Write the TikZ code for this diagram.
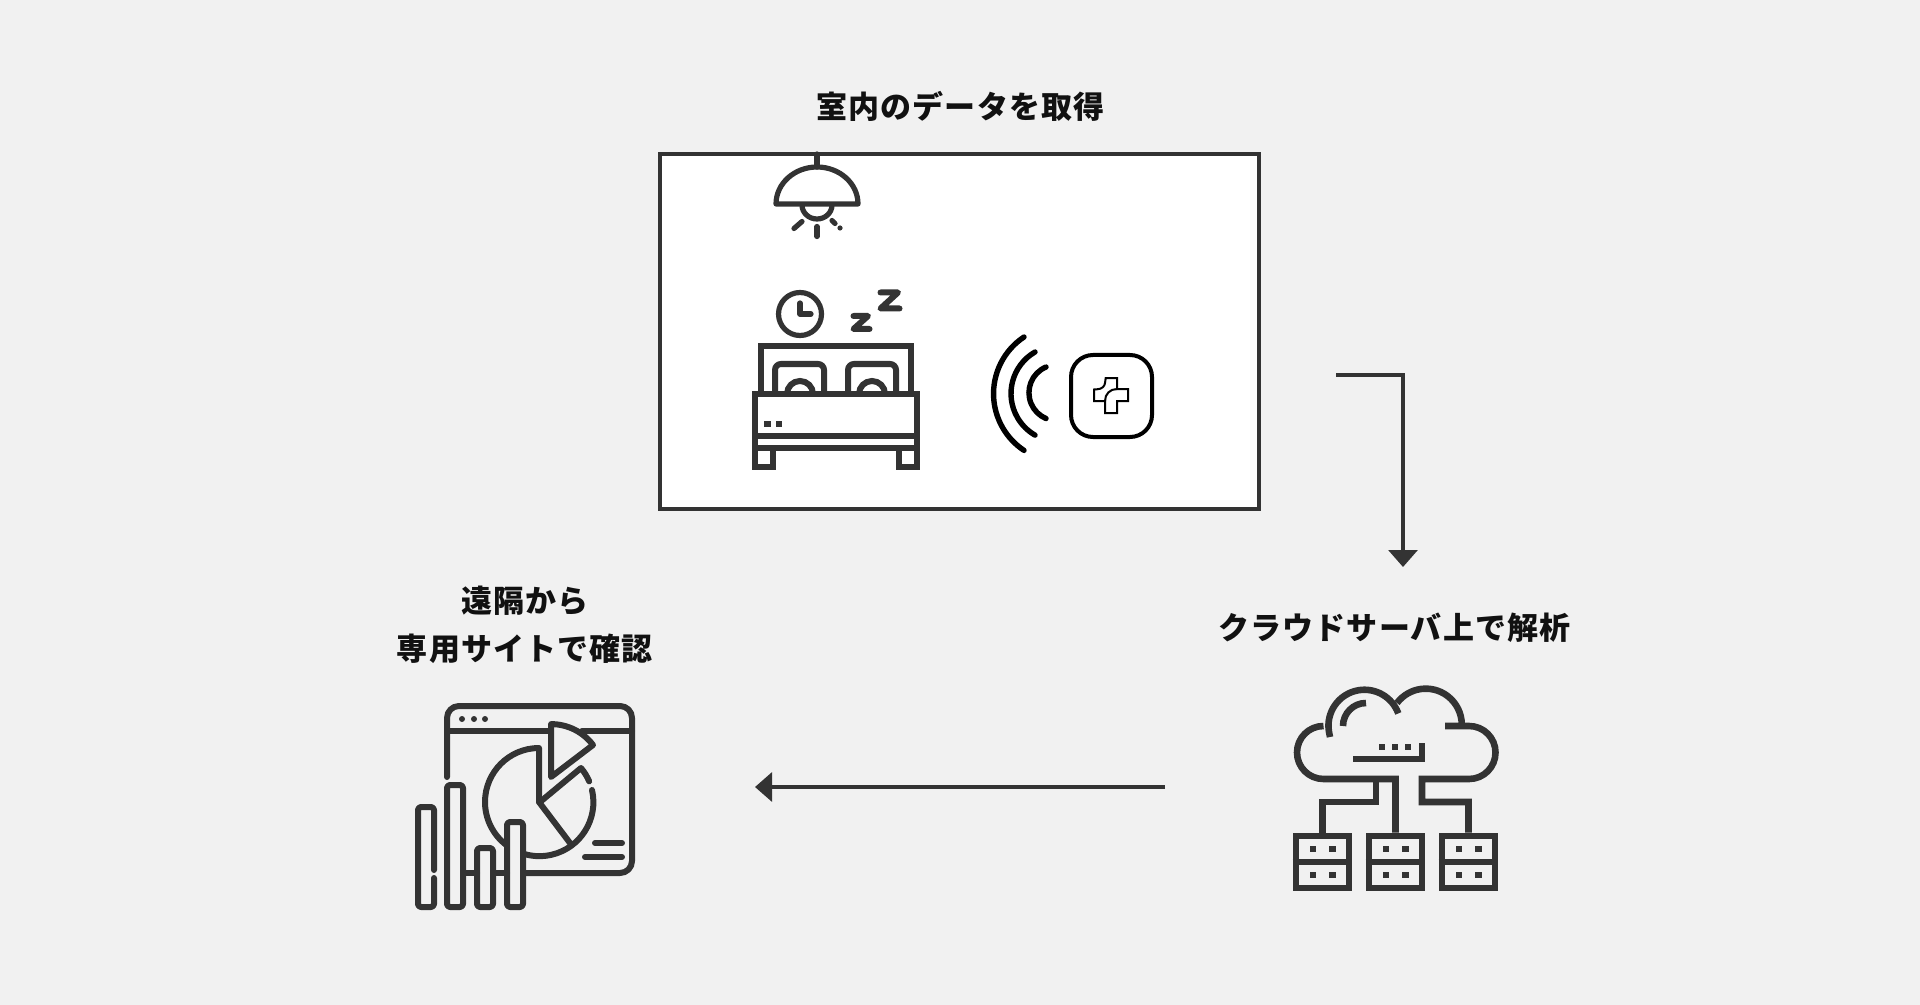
\documentclass[tikz,border=0pt]{standalone}
\usepackage{fontspec}
\usepackage{xcolor}
\usepackage{tikz}
\usetikzlibrary{arrows.meta}
\setmainfont{Noto Sans CJK JP}[LetterSpace=3.7]

\definecolor{paper}{HTML}{F1F1F1}
\definecolor{ink}{HTML}{333333}
\definecolor{caption}{HTML}{111111}

\begin{document}
\begin{tikzpicture}[x=0.5pt, y=-0.5pt,
  caption/.style={text=caption, font=\bfseries\fontsize{15.5}{24}\selectfont,
    align=center, inner sep=0pt},
  %
  room/.style={rectangle, draw=ink, line width=2.4pt, fill=white,
    minimum width=299.5pt, minimum height=177.5pt, inner sep=0pt},
  %
  sensor/.style={rectangle, rounded corners=11pt, draw=black, line width=2pt,
    minimum width=40.5pt, minimum height=41pt, inner sep=0pt},
  %
  server/.style={rectangle, draw=ink, line width=3.3pt,
    minimum width=26.5pt, minimum height=26pt, inner sep=0pt},
  %
  lampline/.style={draw=ink, line width=2.6pt, line cap=round, line join=round},
  %
  bedline/.style={draw=ink, line width=3pt},
  %
  siteline/.style={draw=ink, line width=3pt, line cap=round, line join=round},
  %
  cloudline/.style={draw=ink, line width=3.3pt},
  %
  wave/.style={draw=black, line width=2.7pt, line cap=round},
  %
  flow/.style={draw=ink, line width=1.6pt,
    -{Triangle[length=8.5pt, width=14.5pt]}}
  ]

  \useasboundingbox [fill=paper] (0,0) rectangle (1920,1005);

  \node [caption] (labelRoom) at (960.5,106) {室内のデータを取得};
  \node [caption] (labelCloud) at (1394.5,628) {クラウドサーバ上で解析};
  \node [caption] (labelSite) at (525,625) {遠隔から\\専用サイトで確認};

  \node [room] (roomBox) at (959.5,331.5) {};

  \begin{scope}% lamp
    \draw [lampline] (817,154) -- (817,167);
    \draw [lampline] (776,204) arc [start angle=180, end angle=360,
      x radius=41, y radius=37] -- cycle;
    \draw [lampline] (802,205) arc [start angle=180, end angle=0,
      x radius=15, y radius=14];
    \draw [lampline] (817,226.5) -- (817,236.5);
    \draw [lampline] (802,221.5) -- (794,228.5);
    \draw [lampline] (832,220.5) -- (835,223.5);
    \fill [ink] (840,228) circle [radius=2.6];
  \end{scope}

  \begin{scope}% bed
    \draw [bedline] (761,394) -- (761,346) -- (911,346) -- (911,394);
    \draw [bedline, rounded corners=3pt] (775,394) -- (775,364) -- (824,364) -- (824,394);
    \draw [bedline, rounded corners=3pt] (848,394) -- (848,364) -- (896,364) -- (896,394);
    \draw [bedline] (787,394) arc [start angle=180, end angle=360, radius=13];
    \draw [bedline] (859,394) arc [start angle=180, end angle=360, radius=13];
    \draw [bedline, fill=white] (755,394) rectangle (917,448);
    \draw [bedline] (755,436) -- (917,436);
    \draw [bedline] (755,448) -- (755,467) -- (773,467) -- (773,448);
    \draw [bedline] (899,448) -- (899,467) -- (917,467) -- (917,448);
    \fill [ink] (764,421) rectangle (771,427);
    \fill [ink] (776,421) rectangle (782,427);
    % clock and sleep marks
    \draw [lampline] (800,314) circle [radius=21.5];
    \draw [lampline] (800,303) -- (800,314) -- (811,314);
    \draw [lampline, line width=3pt] (853.5,316) -- (868,316) -- (853.5,329) -- (869.5,329);
    \draw [lampline, line width=3pt] (880.5,292.5) -- (898,292.5) -- (880.5,308.5) -- (899.5,308.5);
  \end{scope}

  \begin{scope}% sensor and its waves
    \node [sensor] (sensorBox) at (1111.5,396) {};
    \draw [wave] (1024,337) arc [start angle=236.5, end angle=123.5, radius=68];
    \draw [wave] (1035,352) arc [start angle=240, end angle=120, radius=48];
    \draw [wave] (1046,367) arc [start angle=247, end angle=113, radius=28];
    \draw [black, line width=1pt, line join=miter]
      (1105.7,378) -- (1117,378) -- (1117,389) -- (1128,389) -- (1128,401) -- (1117,401)
      -- (1117,413) -- (1105,413) -- (1105,401) -- (1094,401) -- (1094,389.5) -- (1097,389.3)
      .. controls (1102,389) and (1104.5,386.5) .. (1105,383) -- cycle;
    \draw [black, line width=1pt] (1117,389) .. controls (1110,389) and (1105,394) .. (1105,401);
  \end{scope}

  \begin{scope}% cloud and servers
    \foreach \sx/\sname in {1322.5/serverA, 1395.5/serverB, 1468.5/serverC} {
      \node [server] (\sname) at (\sx,862) {};
      \draw [cloudline] (\sname.west) -- (\sname.east);
      \foreach \dy in {849,875} {
        \fill [ink] (\sx-13,\dy-3.3) rectangle ++(6.6,6.6);
        \fill [ink] (\sx+6.5,\dy-3.3) rectangle ++(6.6,6.6);
      }
    }
    \draw [cloudline] (1330,737) -- (1329,732) arc [start angle=170, end angle=340, radius=36];
    \draw [cloudline] (1397,703) arc [start angle=217, end angle=360, radius=36];
    \draw [cloudline] (1323.5,726) arc [start angle=270, end angle=90, radius=26.5]
      -- (1395.5,779) -- (serverB.north);
    \draw [cloudline] (1445,726) -- (1469,726) arc [start angle=-90, end angle=90, radius=26.5]
      -- (1422,779) -- (1422,802) -| (serverC.north);
    \draw [cloudline] (1376,779) -- (1376,802) -| (serverA.north);
    \draw [cloudline] (1343,726) arc [start angle=180, end angle=270, radius=23];
    \draw [cloudline] (1353,759) -- (1422,759) -- (1422,743);
    \foreach \dx in {1382,1395,1408} {
      \fill [ink] (\dx-3.3,747-3.3) rectangle ++(6.6,6.6);
    }
  \end{scope}

  \begin{scope}% site window, pie and bars
    \draw [siteline, rounded corners=6pt] (447,777) -- (447,706) -- (632,706) -- (632,873) -- (525,873);
    \draw [siteline] (447,731) -- (550,731);
    \draw [siteline] (582,731) -- (632,731);
    \foreach \dx in {462,474,485} {
      \fill [ink] (\dx,719) circle [radius=3];
    }
    \draw [siteline] (539,802) -- (539,748) arc [start angle=270, end angle=128, radius=54];
    \draw [siteline] (539,802) -- (570,843);
    \draw [siteline] (540,802) -- (581,768) arc [start angle=320, end angle=337, radius=53];
    \draw [siteline] (592,790) arc [start angle=-13, end angle=105, radius=54];
    \draw [siteline] (551,725) -- (551,777) -- (593,745)
      arc [start angle=323, end angle=270, radius=52.5];
    \draw [siteline] (595,843) -- (622,843);
    \draw [siteline] (585,857) -- (622,857);
    % bars
    \draw [siteline, rounded corners=1.5pt] (434,870) -- (434,807) -- (418,807) -- (418,907)
      -- (434,907) -- (434,878);
    \foreach \bl/\br/\bt in {447/463/785, 477/493/848, 507/523/822} {
      \draw [siteline, rounded corners=1.5pt] (\bl,\bt) rectangle (\br,907);
    }
    \draw [siteline] (465,873) -- (477,873);
    \draw [siteline] (493,873) -- (507,873);
  \end{scope}

  \coordinate (roomOut) at (1336,375);
  \coordinate (cloudIn) at (1403,567);
  \coordinate (cloudOut) at (1165,787);
  \coordinate (siteIn) at (755,787);

  \begin{scope}
    \draw [flow] (roomOut) -| (cloudIn);
    \draw [flow] (cloudOut) -- (siteIn);
  \end{scope}

\end{tikzpicture}
\end{document}
